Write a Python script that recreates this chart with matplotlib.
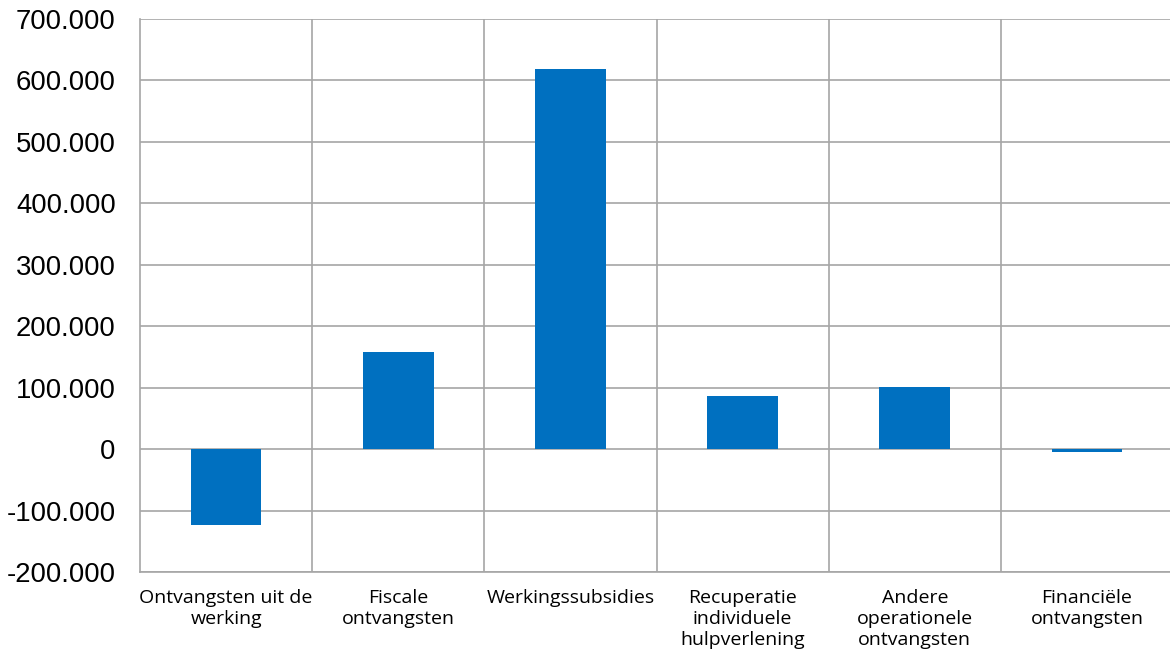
import matplotlib
matplotlib.use("Agg")
import matplotlib.pyplot as plt
from matplotlib.ticker import FuncFormatter, MultipleLocator

categories = ["Ontvangsten uit de\nwerking", "Fiscale\nontvangsten", "Werkingssubsidies",
              "Recuperatie\nindividuele\nhulpverlening", "Andere\noperationele\nontvangsten",
              "Financiële\nontvangsten"]
values = [-123500, 158000, 618500, 86500, 101000, -4000]

fig = plt.figure(figsize=(11.7, 6.57), dpi=100)
ax = fig.add_axes([140 / 1170, 1 - 572 / 657, 1033 / 1170, 553 / 657])

x = range(len(categories))
ax.bar(x, values, width=0.41, color="#0070C0", zorder=3)

ax.set_xlim(-0.5, len(categories) - 0.5)
ax.set_ylim(-200000, 700000)
ax.yaxis.set_major_locator(MultipleLocator(100000))
ax.yaxis.set_major_formatter(FuncFormatter(lambda v, p: f"{int(v):,}".replace(",", ".")))

# gridlines: horizontal on ticks, vertical between categories
ax.grid(axis="y", color="#A6A6A6", linewidth=1.2, zorder=0)
for b in range(1, len(categories)):
    ax.axvline(b - 0.5, color="#A6A6A6", linewidth=1.2, zorder=0)

ax.set_xticks(list(x))
ax.set_xticklabels(categories, fontsize=14, family="Open Sans", linespacing=1.22)
for lab in ax.get_yticklabels():
    lab.set_fontsize(19.8)
    lab.set_family("Liberation Sans")
ax.tick_params(axis="both", length=0)
ax.tick_params(axis="x", pad=12)
ax.tick_params(axis="y", pad=17.5)

for side in ["top", "right"]:
    ax.spines[side].set_visible(False)
for side in ["left", "bottom"]:
    ax.spines[side].set_color("#A6A6A6")
    ax.spines[side].set_linewidth(1.2)

fig.savefig("out.png", dpi=100)
